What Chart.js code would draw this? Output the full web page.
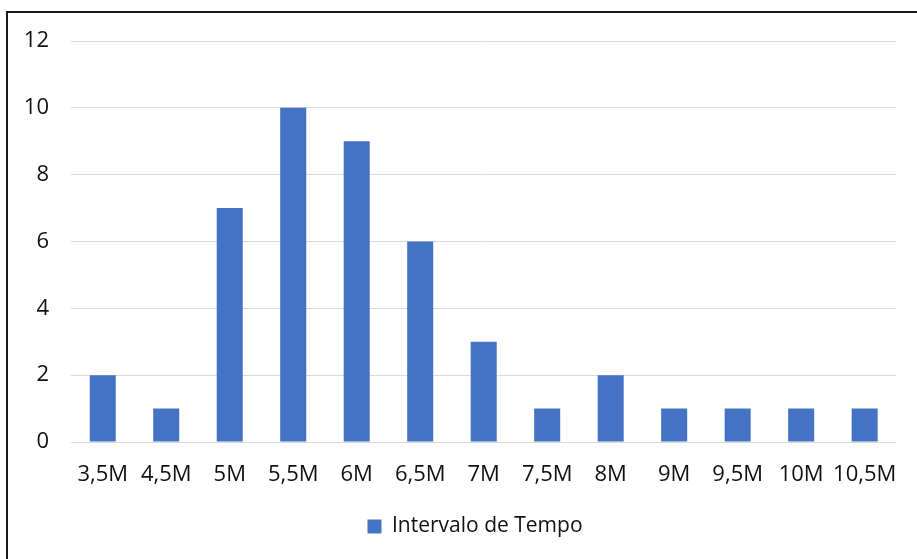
<!DOCTYPE html>
<html>
<head>
<meta charset="utf-8">
<script src="https://cdn.jsdelivr.net/npm/chart.js@4"></script>
<style>
  html, body { margin: 0; padding: 0; background: #fff; }
  #wrap { position: relative; width: 917px; height: 559px; overflow: hidden; }
  #frame { position: absolute; left: 6px; top: 11px; width: 940px; height: 600px; border: 2px solid #1a1a1a; box-sizing: border-box; }
  canvas { position: absolute; left: 0; top: 0; }
</style>
</head>
<body>
<div id="wrap">
  <div id="frame"></div>
  <canvas id="chart" width="917" height="559"></canvas>
</div>
<script>
const categorias = ['3,5M', '4,5M', '5M', '5,5M', '6M', '6,5M', '7M', '7,5M', '8M', '9M', '9,5M', '10M', '10,5M'];
const valores = [2, 1, 7, 10, 9, 6, 3, 1, 2, 1, 1, 1, 1];
const nomeSerie = 'Intervalo de Tempo';
const yMax = 12;
const yPasso = 2;

const fonte = { family: "'Open Sans', sans-serif", size: 22 };

// empurra a legenda um pouco para a direita, como no original
const moverLegenda = {
  id: 'moverLegenda',
  afterLayout(chart) {
    const lg = chart.legend;
    if (lg) { lg.left += 16; lg.right += 16; }
  }
};

new Chart(document.getElementById('chart'), {
  type: 'bar',
  data: {
    labels: categorias,
    datasets: [{
      label: nomeSerie,
      data: valores,
      backgroundColor: '#4472C4',
      borderWidth: 0,
      categoryPercentage: 0.82,
      barPercentage: 0.5
    }]
  },
  options: {
    responsive: false,
    animation: false,
    layout: { padding: { left: 20, right: 19, top: 41, bottom: 12 } },
    plugins: {
      tooltip: { enabled: false },
      legend: {
        position: 'bottom',
        labels: {
          color: '#111',
          font: { family: fonte.family, size: 21 },
          boxWidth: 14,
          boxHeight: 14,
          padding: 6
        }
      }
    },
    scales: {
      x: {
        grid: { display: false, drawTicks: false },
        border: { display: false },
        ticks: { color: '#111', font: fonte, padding: 20, maxRotation: 0, autoSkip: false },
        afterFit: s => { s.height = 68; }
      },
      y: {
        min: 0,
        max: yMax,
        grid: { color: '#d9d9d9', lineWidth: 1, drawTicks: false },
        border: { display: false },
        ticks: { stepSize: yPasso, color: '#111', font: fonte, padding: 22 },
        afterFit: s => { s.width = 51; }
      }
    }
  },
  plugins: [moverLegenda]
});
</script>
</body>
</html>
